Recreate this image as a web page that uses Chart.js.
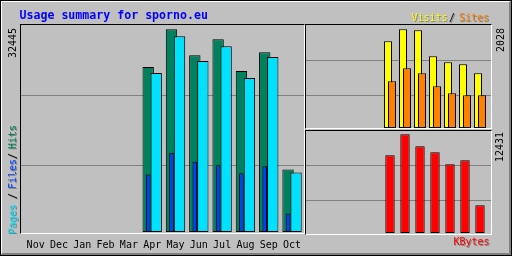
<!DOCTYPE html>
<html>
<head>
<meta charset="utf-8">
<script src="https://cdn.jsdelivr.net/npm/chart.js@4"></script>
<style>
  body { margin: 0; background: #c0c0c0; }
  .abs { position: absolute; }
  #outer { left: 0; top: 0; width: 510px; height: 254px; border: 1px solid #000; background: #c0c0c0; }
  #bevel { left: 1px; top: 1px; width: 507px; height: 251px; border-top: 1px solid #fff; border-left: 1px solid #fff; border-right: 2px solid #808080; border-bottom: 2px solid #808080; }
  .panel { z-index: 2; border-top: 1px solid #000; border-left: 1px solid #000; border-right: 1px solid #fff; border-bottom: 1px solid #fff; }
  .t { position: absolute; z-index: 3; font-family: 'DejaVu Sans Mono', monospace; font-size: 10px; line-height: 12px; white-space: nowrap; }
  .up { transform: rotate(-90deg); transform-origin: 0 0; }
  .sh { text-shadow: 1px 1px 0 #808080; }
  .shu { text-shadow: -1px 1px 0 #808080; }
  canvas { position: absolute; z-index: 1; }
</style>
</head>
<body>
<div id="outer" class="abs"></div>
<div id="bevel" class="abs"></div>
<div class="abs panel" style="left:20px; top:24px; width:283px; height:208px;"></div>
<div class="abs panel" style="left:305px; top:24px; width:185px; height:103px;"></div>
<div class="abs panel" style="left:305px; top:130px; width:185px; height:103px;"></div>

<div class="t" style="left:19.5px; top:7.5px; font-weight:bold; font-size:11.6px; line-height:14px; color:#0000ff;">Usage summary for sporno.eu</div>

<div class="t sh" style="left:411.5px; top:11.5px; color:#ffff00;">Visits</div>
<div class="t sh" style="left:449px; top:11.5px; color:#000;">/</div>
<div class="t sh" style="left:459px; top:11.5px; color:#ff8000;">Sites</div>
<div class="t sh" style="left:453.5px; top:236px; color:#ff0000;">KBytes</div>

<div class="t up" style="left:7px; top:57.5px; color:#000;">32445</div>
<div class="t up shu" style="left:7px; top:234px; color:#00e0ff;">Pages</div>
<div class="t up shu" style="left:7px; top:198.5px; color:#000;">/</div>
<div class="t up shu" style="left:7px; top:189px; color:#0040ff;">Files</div>
<div class="t up shu" style="left:7px; top:158.5px; color:#000;">/</div>
<div class="t up shu" style="left:7px; top:148.5px; color:#00805c;">Hits</div>
<div class="t up" style="left:494.5px; top:51.5px; color:#000;">2028</div>
<div class="t up" style="left:494px; top:162px; color:#000;">12431</div>

<canvas id="mainChart" width="285" height="227" style="left:20px; top:25px;"></canvas>
<canvas id="visitChart" width="185" height="103" style="left:306px; top:25px;"></canvas>
<canvas id="kbyteChart" width="185" height="102" style="left:306px; top:131px;"></canvas>

<script>
const months = ['Nov', 'Dec', 'Jan', 'Feb', 'Mar', 'Apr', 'May', 'Jun', 'Jul', 'Aug', 'Sep', 'Oct'];
const hits   = [null, null, null, null, null, 26395, 32445, 28307, 30856, 25759, 28785, 9988];
const files  = [null, null, null, null, null, 9191, 12696, 11263, 10673, 9399, 10514, 2979];
const pages  = [null, null, null, null, null, 25440, 31333, 27352, 29741, 24644, 27989, 9510];
const visits = [null, null, null, null, null, 1781, 2028, 2007, 1473, 1350, 1309, 1124];
const sites  = [null, null, null, null, null, 960, 1227, 1124, 857, 713, 672, 672];
const kbytes = [null, null, null, null, null, 9786, 12431, 10918, 10163, 8652, 9156, 3488];

// top of each value axis (a little above the largest month)
const mainTop = 33130;
const visitTop = 2116;
const kbyteTop = 12850;
const gridAt = [0.32, 0.66];

// grey lines across the whole panel
const fullGrid = {
    id: 'fullGrid',
    beforeDatasetsDraw(chart) {
        const ctx = chart.ctx;
        const y = chart.scales.y;
        ctx.save();
        ctx.strokeStyle = '#808080';
        ctx.lineWidth = 1;
        y.ticks.forEach((t) => {
            const py = Math.floor(y.getPixelForValue(t.value)) + 0.5;
            ctx.beginPath();
            ctx.moveTo(0, py);
            ctx.lineTo(chart.width, py);
            ctx.stroke();
        });
        ctx.restore();
    }
};

// some bars sit on top of their neighbours
const drawLast = {
    id: 'drawLast',
    beforeDatasetDraw(chart, args) {
        if (chart.data.datasets[args.index].drawLast) return false;
    },
    afterDatasetsDraw(chart) {
        chart.data.datasets.forEach((ds, i) => {
            if (ds.drawLast) chart.getDatasetMeta(i).controller.draw();
        });
    }
};

Chart.defaults.animation = false;
Chart.defaults.responsive = false;
Chart.defaults.devicePixelRatio = 1;
Chart.defaults.plugins.legend.display = false;
Chart.defaults.plugins.tooltip.enabled = false;
Chart.defaults.elements.bar.borderColor = '#000';
Chart.defaults.elements.bar.borderWidth = 1;
Chart.defaults.elements.bar.borderSkipped = false;

const valueAxis = (top) => ({
    display: false,
    min: 0,
    max: top,
    afterBuildTicks: (s) => { s.ticks = gridAt.map((f) => ({ value: s.max * f })); }
});

new Chart(document.getElementById('mainChart'), {
    type: 'bar',
    data: {
        labels: months,
        datasets: [{
            // empty slot so hits sit on the month centre, like the files bar
            label: '',
            data: [],
            order: 1,
            categoryPercentage: 1.03
        },
        {
            label: 'Hits',
            data: hits,
            backgroundColor: '#00805c',
            order: 2,
            categoryPercentage: 1.03,
            barPercentage: 1.42
        },
        {
            label: 'Pages',
            data: pages,
            backgroundColor: '#00e0ff',
            order: 3,
            categoryPercentage: 1.03,
            barPercentage: 1.42,
            drawLast: true
        },
        {
            label: 'Files',
            data: files,
            backgroundColor: '#0040ff',
            order: 0,
            grouped: false,
            categoryPercentage: 1,
            barPercentage: 0.2
        }]
    },
    options: {
        layout: { padding: { right: 5.3 } },
        scales: {
            x: {
                grid: { display: false },
                border: { display: false },
                ticks: {
                    color: '#000',
                    font: { family: 'DejaVu Sans Mono', size: 10 },
                    padding: -1,
                    labelOffset: 4,
                    maxRotation: 0,
                    autoSkip: false
                },
                afterFit: (s) => { s.height = 20; }
            },
            y: valueAxis(mainTop)
        }
    },
    plugins: [fullGrid, drawLast]
});

new Chart(document.getElementById('visitChart'), {
    type: 'bar',
    data: {
        labels: months,
        datasets: [{
            label: 'Visits',
            data: visits,
            backgroundColor: '#ffff00',
            categoryPercentage: 0.533,
            barPercentage: 2
        },
        {
            label: 'Sites',
            data: sites,
            backgroundColor: '#ff8000',
            categoryPercentage: 0.533,
            barPercentage: 2,
            drawLast: true
        }]
    },
    options: {
        layout: { padding: { left: 1.5, right: 3.5 } },
        scales: {
            x: { display: false },
            y: valueAxis(visitTop)
        }
    },
    plugins: [fullGrid, drawLast]
});

new Chart(document.getElementById('kbyteChart'), {
    type: 'bar',
    data: {
        labels: months,
        datasets: [{
            label: 'KBytes',
            data: kbytes,
            backgroundColor: '#ff0000',
            categoryPercentage: 1,
            barPercentage: 0.627
        }]
    },
    options: {
        layout: { padding: { left: 1.5, right: 3.5 } },
        scales: {
            x: { display: false },
            y: valueAxis(kbyteTop)
        }
    },
    plugins: [fullGrid]
});
</script>
</body>
</html>
